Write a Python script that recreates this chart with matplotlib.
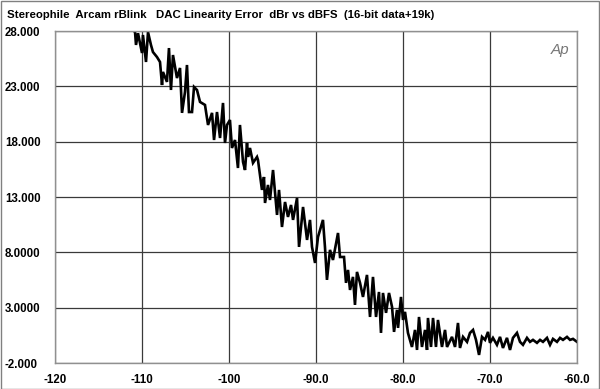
import matplotlib
matplotlib.use("Agg")
import matplotlib.pyplot as plt
from matplotlib.patches import Rectangle

title = "Stereophile  Arcam rBlink   DAC Linearity Error  dBr vs dBFS  (16-bit data+19k)"

level_dbfs = [
    -111.3, -110.80, -110.69, -110.46, -110.00, -109.89, -109.54, -109.31, -108.97, -108.74,
    -108.28, -107.93, -107.70, -107.59, -107.13, -106.90, -106.67, -106.44, -105.98, -105.63,
    -105.40, -105.06, -104.83, -104.60, -104.25, -104.02, -103.68, -103.33, -102.76, -102.41,
    -101.95, -101.72, -101.38, -101.03, -100.69, -100.46, -100.23,
    -99.89, -99.66, -99.31, -98.97, -98.74, -98.39, -98.16, -97.93, -97.82, -97.59,
    -97.24, -96.78, -96.67, -96.21, -95.98, -95.86, -95.52, -95.29, -94.94, -94.48,
    -94.25, -93.91, -93.56, -93.22, -92.87, -92.64, -92.18, -91.95, -91.49, -91.03,
    -90.69, -90.46,
    -90.11, -89.77,
    -89.20, -88.97, -88.74, -88.39, -88.05, -87.47, -87.24, -86.78, -86.55, -86.32,
    -86.09, -85.75, -85.52, -85.29, -84.94, -84.60, -84.14, -83.79, -83.45, -83.10,
    -82.76, -82.53, -82.30, -81.95, -81.61, -81.26, -81.03, -80.69, -80.57, -80.23,
    -80.00, -79.77, -79.43, -78.97, -78.62, -78.39, -78.16, -77.82, -77.47, -77.24,
    -77.13, -76.78, -76.55, -76.21, -75.98, -75.52, -75.17, -74.94, -74.37, -74.02,
    -73.68, -73.45, -73.10, -72.64, -72.30, -71.95, -71.61, -71.26, -70.92, -70.57,
    -70.23, -70.00, -69.66, -69.20, -68.85, -68.51, -68.05, -67.70, -67.36, -66.90,
    -66.55, -66.21, -65.75, -65.40, -65.06, -64.60, -64.25, -63.91, -63.45, -63.10,
    -62.76, -62.30, -61.95, -61.61, -61.15, -60.80, -60.46, -60.00,
]

error_dbr = [
    28.3, 27.9, 26.74, 27.8, 26.01, 27.64, 25.2, 27.9, 26.74, 26.1,
    25.65, 25.2, 23.12, 24.3, 23.4, 26.46, 22.67, 25.83, 23.75, 24.66,
    20.6, 22.49, 24.93, 20.68, 20.68, 22.94, 22.67, 21.59, 21.32, 19.51,
    20.6, 18.15, 20.68, 18.33, 21.5, 17.88, 19.51,
    19.96, 17.43, 18.15, 15.62, 19.51, 16.17, 15.44, 17.88, 16.62, 17.43,
    16.08, 16.62, 16.35, 13.64, 14.81, 12.46, 14.09, 12.73, 15.44, 11.38,
    13.64, 10.29, 12.55, 11.2, 12.28, 10.93, 12.91, 8.49, 12.1, 9.12,
    10.93, 8.49,
    7.04, 9.39,
    10.93, 8.49, 5.51, 8.22, 7.31, 9.75, 7.58, 7.58, 5.24, 6.41,
    4.6, 5.78, 3.25, 6.23, 5.24, 3.97, 5.96, 2.16, 5.78, 2.16,
    4.42, 0.72, 4.33, 2.53, 4.33, 3.07, 0.81, 2.8, 1.17, 3.97,
    1.89, 2.62, 0.72, -0.55, 0.99, -0.82, 2.16, -0.55, 0.99, -0.82,
    2.07, -0.55, 2.07, -0.55, 1.89, -0.55, 0.99, -0.55, 0.36, -0.55,
    1.62, -0.64, 0.36, -0.09, 0.72, 0.99, 0.09, -1.27, 0.36, 0.09,
    0.81, -0.18, 0.27, -0.36, 0.36, -0.64, 0.27, -0.82, 0.27, 0.72,
    -0.09, -0.36, 0.27, -0.09, 0.09, -0.18, 0.09, -0.09, 0.27, -0.36,
    0.18, -0.09, 0.27, 0.09, 0.36, 0.09, 0.18, -0.09,
]

x_ticks = [-120, -110, -100, -90, -80, -70, -60]
x_tick_labels = ["-120", "-110", "-100", "-90.0", "-80.0", "-70.0", "-60.0"]
y_ticks = [28, 23, 18, 13, 8, 3, -2]
y_tick_labels = ["28.000", "23.000", "18.000", "13.000", "8.0000", "3.0000", "-2.000"]

plt.rcParams['font.family'] = ['Liberation Sans', 'DejaVu Sans']

fig = plt.figure(figsize=(6.0, 3.89), dpi=100)
fig.patch.set_facecolor("white")
ax = fig.add_axes([55/600, 1-363/389, 522/600, 332/389])

ax.plot(level_dbfs, error_dbr, color="black", linewidth=1.9, solid_joinstyle="miter", clip_on=True)

ax.set_xlim(-120, -60)
ax.set_ylim(-2, 28)
ax.set_xticks(x_ticks)
ax.set_xticklabels(x_tick_labels, fontsize=8.3, fontweight="bold")
ax.set_yticks(y_ticks)
ax.set_yticklabels(y_tick_labels, fontsize=8.3, fontweight="bold")
for lbl in ax.get_yticklabels():
    lbl.set_horizontalalignment("left")
ax.tick_params(axis="y", length=0, pad=36)
ax.tick_params(axis="x", length=0, pad=8)
ax.grid(True, color="#3a3a3a", linewidth=0.9)
ax.set_axisbelow(True)
for s in ax.spines.values():
    s.set_color("#909090")
    s.set_linewidth(1.0)

ax.text(0.985, 0.965, "Ap", transform=ax.transAxes, ha="right", va="top",
        fontsize=11, style="italic", color="#777777", fontweight="light")

fig.text(7/600, 1-15/389, title, fontsize=8.2, fontweight="bold", ha="left", va="center")

fig.patches.append(Rectangle((0.001, 0.001), 0.997, 0.997, transform=fig.transFigure,
                             fill=False, edgecolor="#808080", linewidth=1.0))

fig.savefig("out.png", dpi=100)
